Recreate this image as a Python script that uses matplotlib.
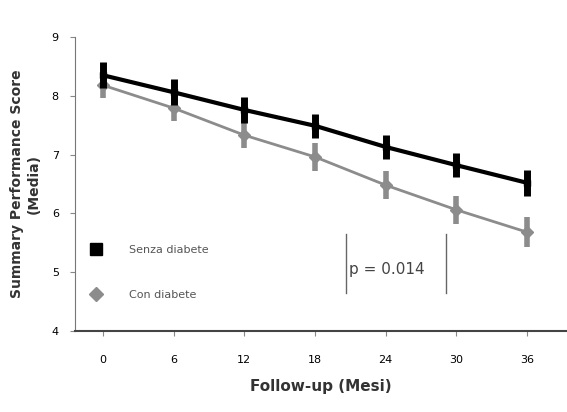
import matplotlib
matplotlib.use("Agg")
import matplotlib.pyplot as plt
from matplotlib.lines import Line2D

# data
months = [0, 6, 12, 18, 24, 30, 36]
senza = [8.35, 8.06, 7.76, 7.49, 7.13, 6.82, 6.52]
senza_err = [0.22, 0.22, 0.22, 0.2, 0.2, 0.2, 0.22]
con = [8.18, 7.79, 7.33, 6.96, 6.48, 6.06, 5.68]
con_err = [0.22, 0.22, 0.22, 0.24, 0.24, 0.24, 0.26]
y_ticks = [4, 5, 6, 7, 8, 9]
p_text = "p = 0.014"

fig = plt.figure(figsize=(5.67, 4.12), dpi=100)
ax = fig.add_axes([0.132, 0.197, 0.868, 0.713])

ax.errorbar(months, con, yerr=con_err, color="#8c8c8c", lw=2, marker="D", ms=6,
            elinewidth=4, capsize=0, zorder=2)
ax.errorbar(months, senza, yerr=senza_err, color="black", lw=3, marker="s", ms=4,
            elinewidth=5, capsize=0, zorder=3)

ax.set_xlim(-2.4, 39.4)
ax.set_ylim(4, 9)
ax.set_xticks(months)
ax.set_yticks(y_ticks)
ax.tick_params(labelsize=8, color="#888888")
ax.tick_params(axis="x", pad=14)
ax.tick_params(axis="y", pad=8)
for s in ["top", "right"]:
    ax.spines[s].set_visible(False)
ax.spines["left"].set_color("#777777")
ax.spines["bottom"].set_color("#444444")
ax.spines["bottom"].set_linewidth(1.5)

ax.set_xlabel("Follow-up (Mesi)", fontsize=11, fontweight="bold", color="#333333",
              labelpad=10)
ax.set_ylabel("Summary Performance Score\n(Media)", fontsize=10, fontweight="bold",
              color="#333333", labelpad=8)

handles = [Line2D([], [], ls="none", marker="s", color="black", ms=8),
           Line2D([], [], ls="none", marker="D", color="#8c8c8c", ms=7)]
ax.legend(handles, ["Senza diabete", "Con diabete"], loc="lower left",
          bbox_to_anchor=(0.0, 0.07), frameon=False, fontsize=8, labelspacing=3.2,
          handletextpad=2.0, labelcolor="#555555")

ax.text(20.9, 5.05, p_text, fontsize=11, color="#444444", va="center")
ax.axvline(20.6, ymin=0.13, ymax=0.33, color="#666666", lw=1)
ax.axvline(29.1, ymin=0.13, ymax=0.33, color="#666666", lw=1)

fig.savefig("out.png", dpi=100)
